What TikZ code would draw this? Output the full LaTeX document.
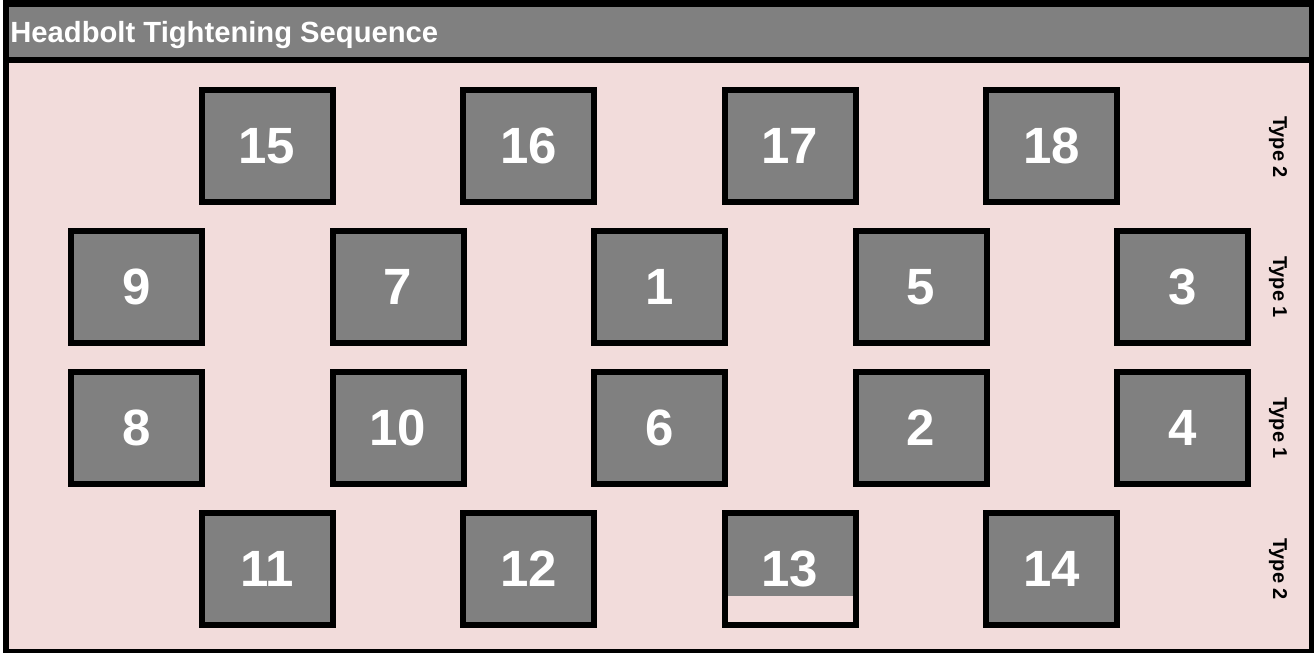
\documentclass[tikz,border=0pt]{standalone}
\usepackage{fontspec}
\setmainfont{Liberation Sans}
\usetikzlibrary{positioning}
\definecolor{boltgray}{RGB}{128,128,128}
\definecolor{headpink}{RGB}{242,220,219}

\begin{document}
\begin{tikzpicture}[x=0.5pt,y=-0.5pt,
  bolt/.style={draw=black,line width=3pt,fill=boltgray,minimum width=65.5pt,
    minimum height=56pt,inner sep=0pt,text=white,
    font=\fontsize{25.5}{30}\selectfont\bfseries},
  typelab/.style={rotate=-90,inner sep=0pt,font=\fontsize{10}{12}\selectfont\bfseries}]
  \def\dx{261.5} % column pitch
  \useasboundingbox (0,0) rectangle (1314,653);
  \fill[white] (0,0) rectangle (1314,653);
  % --- panel and title bar ---
  \fill[headpink] (9,63) rectangle (1309,653);
  \fill[boltgray] (9,7) rectangle (1309,57);
  \draw[line width=3pt] (6,3.5) rectangle (1311.5,652);
  \draw[line width=3pt] (6,60) -- (1311.5,60);
  \node[anchor=base west,inner sep=0pt,text=white,font=\fontsize{14.6}{17}\selectfont\bfseries]
    (title) at (10,42) {Headbolt Tightening Sequence};
  % --- outer rows (type 2) ---
  \foreach \n/\c in {15/0,16/1,17/2,18/3}{%
    \node[bolt] (b\n) at ({267+\c*\dx},146) {\n};}
  \foreach \n/\c in {11/0,12/1,14/3}{%
    \node[bolt] (b\n) at ({267+\c*\dx},569) {\n};}
  % bolt 13 only partly filled
  \node[bolt,fill=none,path picture={\fill[boltgray] (path picture bounding box.north west)
    rectangle ([yshift=14.5pt]path picture bounding box.south east);}]
    (b13) at ({267+2*\dx},569) {13};
  % --- inner rows (type 1) ---
  \foreach \n/\c in {9/0,7/1,1/2,5/3,3/4}{%
    \node[bolt] (b\n) at ({136.5+\c*\dx},287) {\n};}
  \foreach \n/\c in {8/0,10/1,6/2,2/3,4/4}{%
    \node[bolt] (b\n) at ({136.5+\c*\dx},428) {\n};}
  % --- row labels ---
  \foreach \i/\ry/\lab in {1/147/{Type 2},2/287/{Type 1},3/428/{Type 1},4/569/{Type 2}}{%
    \node[typelab] (t\i) at (1278,\ry) {\lab};}
\end{tikzpicture}
\end{document}
